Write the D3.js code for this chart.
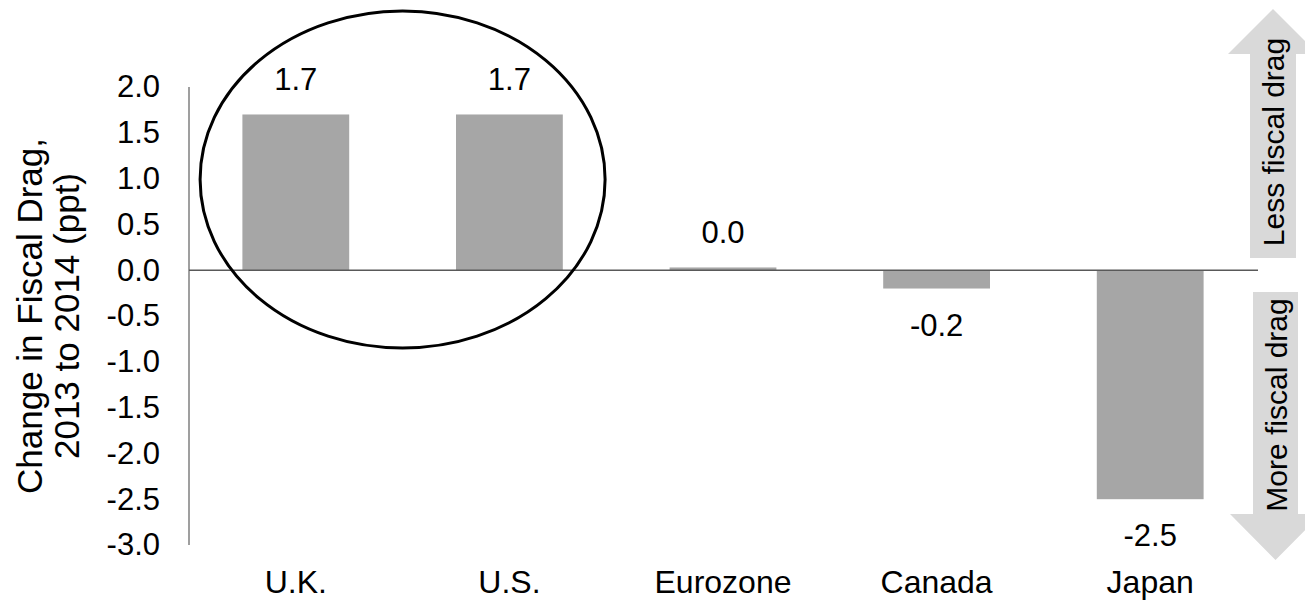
<!DOCTYPE html>
<html>
<head>
<meta charset="utf-8">
<script src="https://cdn.jsdelivr.net/npm/d3@7"></script>
<style>
  html, body { margin: 0; padding: 0; background: #fff; }
  svg { display: block; font-family: "Liberation Sans", Arial, sans-serif; }
</style>
</head>
<body>
<svg id="chart" width="1305" height="602"></svg>
<script>
// Change in fiscal drag between 2013 and 2014, percentage points
const regions = ["U.K.", "U.S.", "Eurozone", "Canada", "Japan"];
const dragChange = [1.7, 1.7, 0.03, -0.2, -2.5];
const yTicks = [2.0, 1.5, 1.0, 0.5, 0.0, -0.5, -1.0, -1.5, -2.0, -2.5, -3.0];
const yTitleLines = ["Change in Fiscal Drag,", "2013 to 2014 (ppt)"];
const arrowLabels = ["Less fiscal drag", "More fiscal drag"];

const svg = d3.select("#chart");
// one decimal, plain hyphen for negatives
const fmt = d => d3.format(".1f")(d).replace("\u2212", "-");

const x = d3.scaleBand()
  .domain(regions)
  .range([189, 1257])
  .paddingInner(0.5)
  .paddingOuter(0.25);

const y = d3.scaleLinear()
  .domain([-3, 2])
  .range([545, 87]);

// y axis: labels only, plus a plain vertical rule
const yAxis = d3.axisLeft(y)
  .tickValues(yTicks)
  .tickFormat(fmt)
  .tickSize(0)
  .tickPadding(29);

const gy = svg.append("g")
  .attr("transform", "translate(189,0)")
  .call(yAxis);
gy.select(".domain").remove();
gy.selectAll("text")
  .attr("font-size", 31)
  .attr("font-family", "Liberation Sans, Arial, sans-serif")
  .attr("fill", "#000");

svg.append("line")
  .attr("x1", 189).attr("x2", 189)
  .attr("y1", y(2)).attr("y2", y(-3))
  .attr("stroke", "#7f7f7f")
  .attr("stroke-width", 1.5);

// bars
svg.append("g")
  .selectAll("rect")
  .data(regions)
  .join("rect")
  .attr("x", d => x(d))
  .attr("width", x.bandwidth())
  .attr("y", (d, i) => y(Math.max(0, dragChange[i])))
  .attr("height", (d, i) => Math.abs(y(dragChange[i]) - y(0)))
  .attr("fill", "#a6a6a6");

// zero line
svg.append("line")
  .attr("x1", 189).attr("x2", 1258)
  .attr("y1", y(0)).attr("y2", y(0))
  .attr("stroke", "#595959")
  .attr("stroke-width", 1.5);

// value labels
svg.append("g")
  .selectAll("text")
  .data(regions)
  .join("text")
  .attr("x", d => x(d) + x.bandwidth() / 2)
  .attr("y", (d, i) => dragChange[i] >= 0
    ? y(dragChange[i]) - 24
    : y(dragChange[i]) + 47)
  .attr("text-anchor", "middle")
  .attr("font-size", 31)
  .attr("fill", "#000")
  .text((d, i) => fmt(dragChange[i]));

// category labels
const gx = svg.append("g")
  .attr("transform", `translate(0,${y(-3)})`)
  .call(d3.axisBottom(x).tickSize(0).tickPadding(0));
gx.select(".domain").remove();
gx.selectAll("text")
  .attr("font-size", 32)
  .attr("font-family", "Liberation Sans, Arial, sans-serif")
  .attr("fill", "#000")
  .attr("dy", null)
  .attr("y", 48);

// y axis title
const yTitle = svg.append("text")
  .attr("transform", "translate(0,316) rotate(-90)")
  .attr("text-anchor", "middle")
  .attr("font-size", 35)
  .attr("fill", "#000");
yTitle.selectAll("tspan")
  .data(yTitleLines)
  .join("tspan")
  .attr("x", 0)
  .attr("y", (d, i) => 42 + i * 37)
  .text(d => d);

// ellipse around U.K. and U.S.
const ukUsLeft = x("U.K.");
const ukUsRight = x("U.S.") + x.bandwidth();
svg.append("ellipse")
  .attr("cx", (ukUsLeft + ukUsRight) / 2)
  .attr("cy", 179.5)
  .attr("rx", 202.5)
  .attr("ry", 168.5)
  .attr("fill", "none")
  .attr("stroke", "#000")
  .attr("stroke-width", 3);

// direction arrows at the right edge
const arrowFill = "#d9d9d9";
const up = d3.path();
up.moveTo(1250, 258);
up.lineTo(1250, 54);
up.lineTo(1228, 54);
up.lineTo(1273, 9);
up.lineTo(1318, 54);
up.lineTo(1296, 54);
up.lineTo(1296, 258);
up.closePath();
svg.append("path").attr("d", up.toString()).attr("fill", arrowFill);

const down = d3.path();
down.moveTo(1253, 292);
down.lineTo(1253, 514);
down.lineTo(1230, 514);
down.lineTo(1275.5, 560);
down.lineTo(1321, 514);
down.lineTo(1298, 514);
down.lineTo(1298, 292);
down.closePath();
svg.append("path").attr("d", down.toString()).attr("fill", arrowFill);

svg.append("text")
  .attr("transform", "translate(1284,142) rotate(-90)")
  .attr("text-anchor", "middle")
  .attr("font-size", 30)
  .attr("fill", "#000")
  .text(arrowLabels[0]);

svg.append("text")
  .attr("transform", "translate(1287,405) rotate(-90)")
  .attr("text-anchor", "middle")
  .attr("font-size", 30)
  .attr("fill", "#000")
  .text(arrowLabels[1]);
</script>
</body>
</html>
